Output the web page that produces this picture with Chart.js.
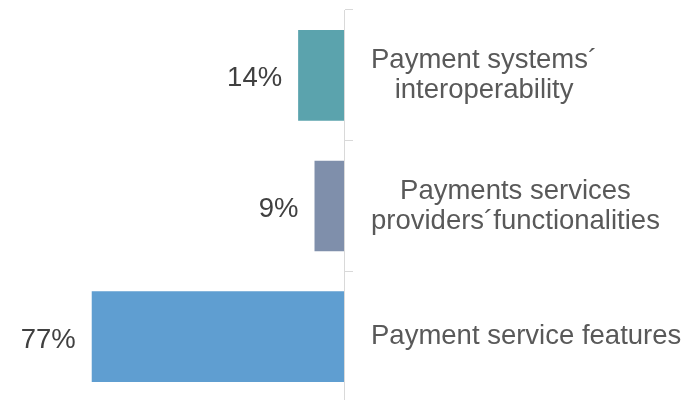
<!DOCTYPE html>
<html>
<head>
<meta charset="utf-8">
<script src="https://cdn.jsdelivr.net/npm/chart.js@4/dist/chart.umd.min.js"></script>
<style>
  html, body { margin: 0; padding: 0; background: #fff; overflow: hidden; }
  #wrap { width: 697px; height: 402px; }
</style>
</head>
<body>
<div id="wrap"><canvas id="chart"></canvas></div>
<script>
const categories = [
    ['Payment systems\u00b4', 'interoperability'],
    ['Payments services', 'providers\u00b4functionalities'],
    ['Payment service features']
]
const shares = [14, 9, 77]
const barColors = ['#5ba3ad', '#7f8fab', '#5f9ed1']

const FONT = '"Liberation Sans", Arial, sans-serif'

// value labels to the left of each bar, category text to the right of the axis
const sideLabels = {
    id: 'sideLabels',
    afterDatasetsDraw(chart) {
        const { ctx } = chart
        const meta = chart.getDatasetMeta(0)
        ctx.save()
        ctx.font = '27.5px ' + FONT
        ctx.textBaseline = 'alphabetic'

        ctx.fillStyle = '#404040'
        ctx.textAlign = 'right'
        meta.data.forEach((bar, i) => {
            ctx.fillText(shares[i] + '%', bar.x - 16, bar.y + 11)
        })

        const yScale = chart.scales.y
        const left = 371
        const lineH = 30
        ctx.fillStyle = '#595959'
        ctx.textAlign = 'center'
        categories.forEach((lines, i) => {
            const cy = yScale.getPixelForTick(i)
            const w = Math.max(...lines.map(l => ctx.measureText(l).width))
            const cx = left + w / 2
            const first = cy + 7.5 - (lines.length - 1) * lineH / 2
            lines.forEach((l, j) => ctx.fillText(l, cx, first + j * lineH))
        })
        ctx.restore()
    }
}

const chart = new Chart(document.getElementById('chart'), {
    type: 'bar',
    data: {
        labels: categories,
        datasets: [{
            data: shares,
            backgroundColor: barColors,
            borderWidth: 0,
            categoryPercentage: 1,
            barPercentage: 0.694
        }]
    },
    options: {
        indexAxis: 'y',
        responsive: true,
        maintainAspectRatio: false,
        animation: false,
        layout: { padding: { top: 10, left: 0, right: 0, bottom: 0 } },
        plugins: {
            legend: { display: false },
            tooltip: { enabled: false }
        },
        scales: {
            x: {
                display: false,
                reverse: true,
                min: 0,
                max: 105
            },
            y: {
                position: 'right',
                ticks: { display: false },
                grid: {
                    offset: true,
                    drawOnChartArea: false,
                    drawTicks: true,
                    tickLength: 9,
                    color: '#d9d9d9'
                },
                border: { display: true, color: '#d9d9d9', width: 1 },
                afterFit(scale) { scale.width = 353 }
            }
        }
    },
    plugins: [sideLabels]
})
</script>
</body>
</html>
